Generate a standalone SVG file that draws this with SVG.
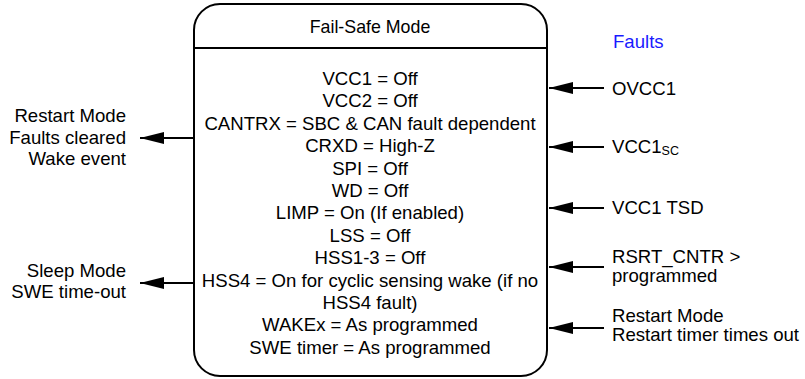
<svg xmlns="http://www.w3.org/2000/svg" width="805" height="379" viewBox="0 0 805 379">
<defs>
<style>
text{font-family:"Liberation Sans",Arial,sans-serif;font-size:18.6px;fill:#000}
.c{text-anchor:middle}
.r{text-anchor:end}
.blue{fill:#1a1aff}
.ln{stroke:#000;stroke-width:2;fill:none}
</style>
<marker id="ah" markerWidth="26" markerHeight="12" refX="24" refY="6" orient="auto" markerUnits="userSpaceOnUse">
<path d="M0,0 L24,6 L0,12 Z" fill="#000"/>
</marker>
</defs>
<rect width="805" height="379" fill="#fff"/>
<g id="failsafe">
<rect x="194" y="4" width="353" height="372" rx="26" ry="26" class="ln" stroke-width="2.4"/>
<line x1="194" y1="48" x2="547" y2="48" class="ln"/>
<text class="c" x="370" y="33" style="font-size:17.8px">Fail-Safe Mode</text>
<text class="c" x="370" y="85">VCC1 = Off</text>
<text class="c" x="370" y="107.4">VCC2 = Off</text>
<text class="c" x="370" y="129.8">CANTRX = SBC &amp; CAN fault dependent</text>
<text class="c" x="370" y="152.2">CRXD = High-Z</text>
<text class="c" x="370" y="174.6">SPI = Off</text>
<text class="c" x="370" y="197">WD = Off</text>
<text class="c" x="370" y="219.4">LIMP = On (If enabled)</text>
<text class="c" x="370" y="241.8">LSS = Off</text>
<text class="c" x="370" y="264.2">HSS1-3 = Off</text>
<text class="c" x="370" y="286.6">HSS4 = On for cyclic sensing wake (if no</text>
<text class="c" x="370" y="309">HSS4 fault)</text>
<text class="c" x="370" y="331.4">WAKEx = As programmed</text>
<text class="c" x="370" y="353.8">SWE timer = As programmed</text>
</g>
<g id="restart-out">
<text class="r" x="126" y="122">Restart Mode</text>
<text class="r" x="126" y="143.5">Faults cleared</text>
<text class="r" x="126" y="165">Wake event</text>
</g>
<g id="sleep-out">
<text class="r" x="126" y="277">Sleep Mode</text>
<text class="r" x="126" y="298">SWE time-out</text>
</g>
<g id="faults">
<text class="blue" x="613" y="48">Faults</text>
<text x="612" y="95">OVCC1</text>
<text x="612" y="153">VCC1<tspan style="font-size:12.5px" dy="2">SC</tspan></text>
<text x="612" y="214">VCC1 TSD</text>
<text x="612" y="263">RSRT_CNTR &gt;</text>
<text x="612" y="282">programmed</text>
<text x="612" y="322">Restart Mode</text>
<text x="612" y="341">Restart timer times out</text>
</g>
<g id="connectors">
<line x1="194" y1="138" x2="140" y2="138" class="ln" marker-end="url(#ah)"/>
<line x1="194" y1="283" x2="140" y2="283" class="ln" marker-end="url(#ah)"/>
<line x1="604" y1="88" x2="549" y2="88" class="ln" marker-end="url(#ah)"/>
<line x1="604" y1="147" x2="549" y2="147" class="ln" marker-end="url(#ah)"/>
<line x1="604" y1="208" x2="549" y2="208" class="ln" marker-end="url(#ah)"/>
<line x1="604" y1="267" x2="549" y2="267" class="ln" marker-end="url(#ah)"/>
<line x1="604" y1="328" x2="549" y2="328" class="ln" marker-end="url(#ah)"/>
</g>
</svg>
